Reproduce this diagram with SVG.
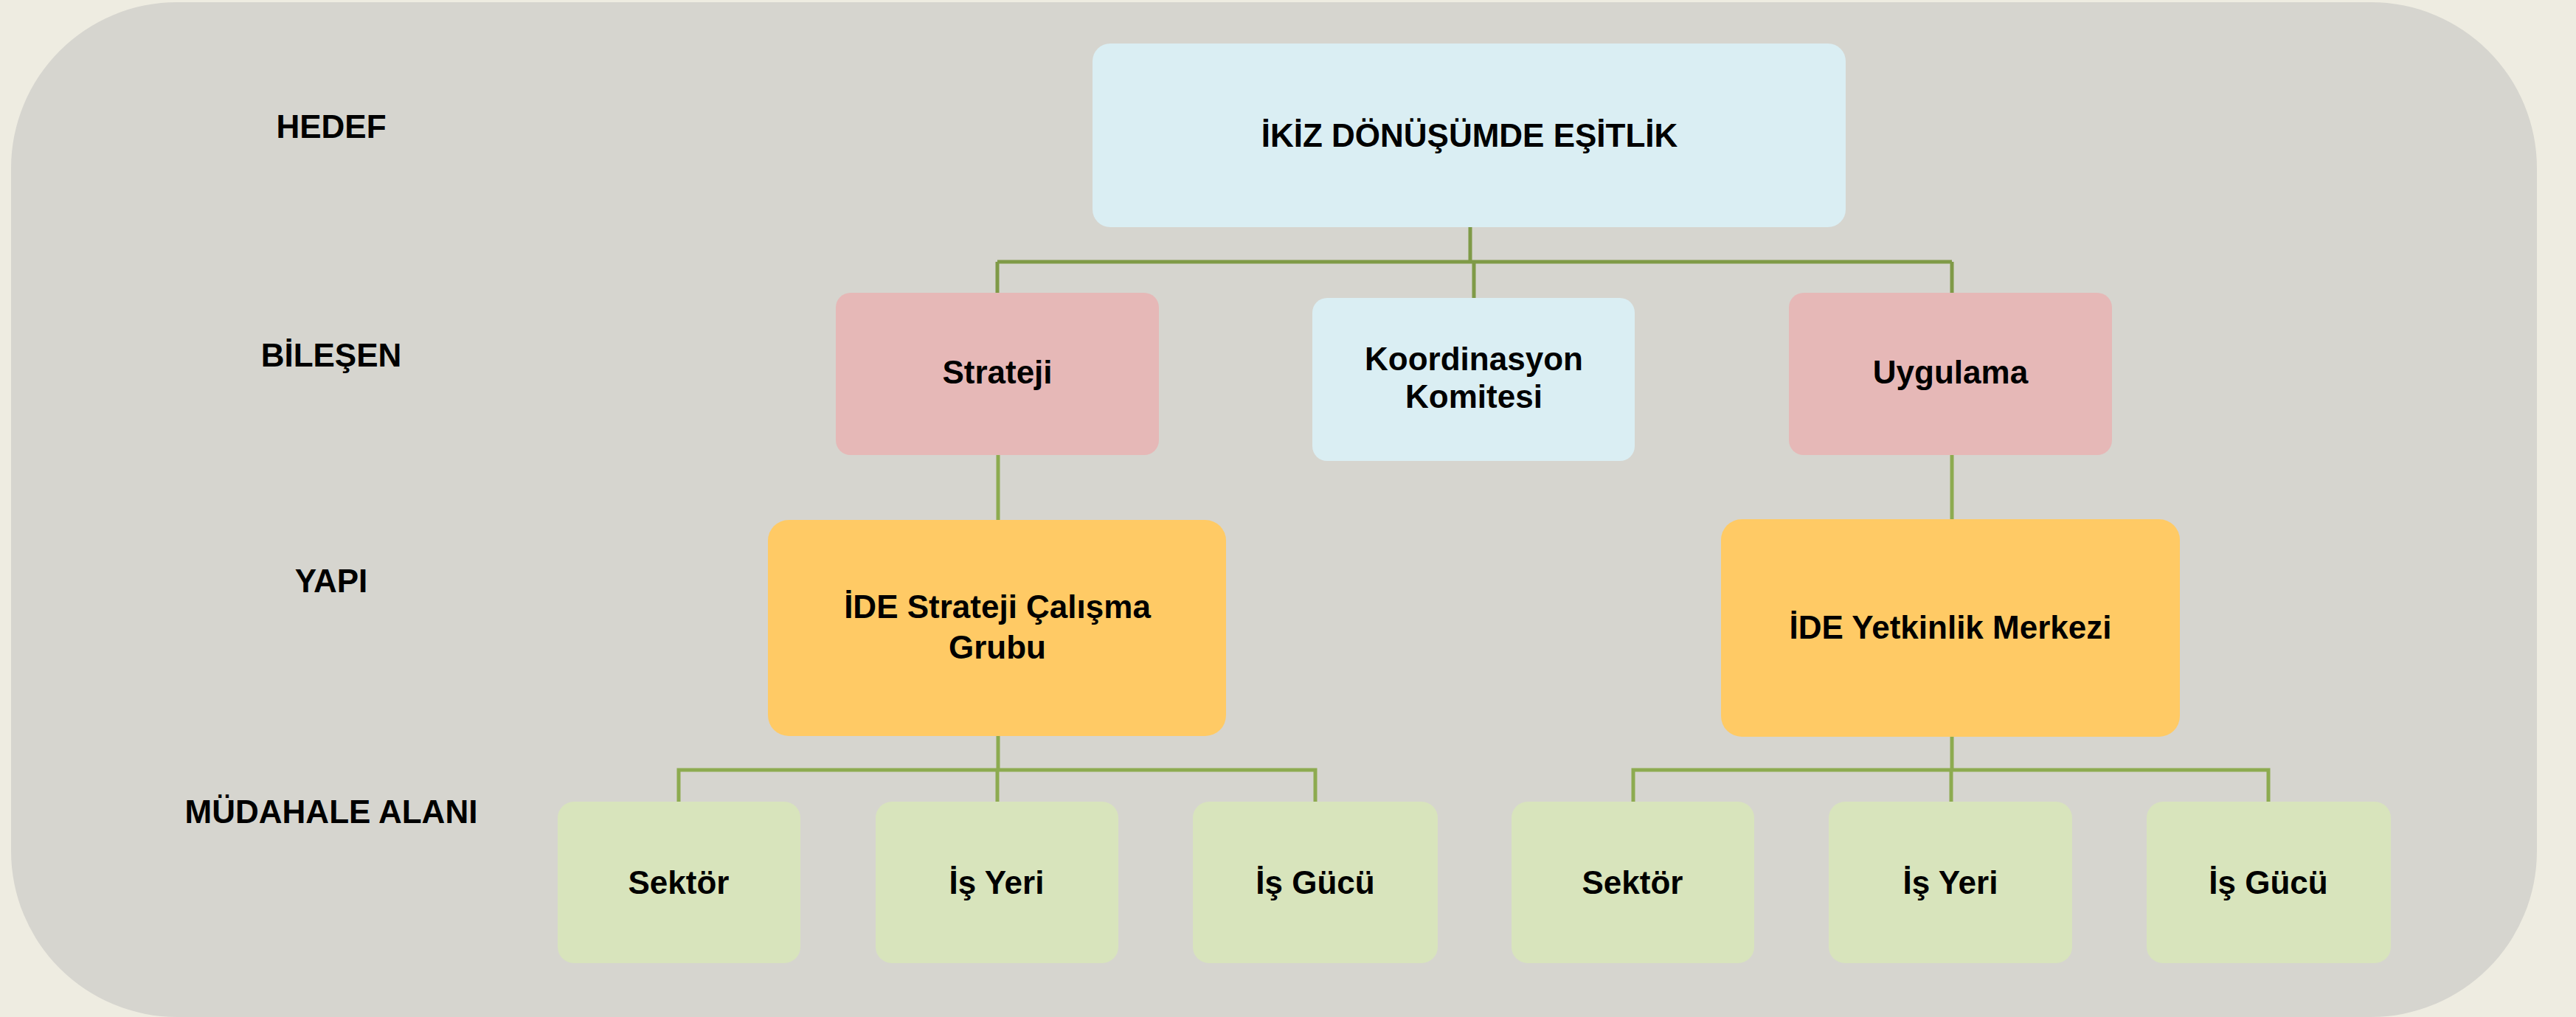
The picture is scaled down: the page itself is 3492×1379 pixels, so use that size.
<svg xmlns="http://www.w3.org/2000/svg" width="3492" height="1379" viewBox="0 0 3492 1379">
<style>
text{font-family:"Liberation Sans",Arial,sans-serif;font-weight:bold;font-size:44px;fill:#000;text-anchor:middle}
.c1{fill:none;stroke:#7F9A47;stroke-width:5}
.c2{fill:none;stroke:#8DAB50;stroke-width:5}
.blue{fill:#DAEEF3}
.pink{fill:#E6B8B7}
.yel{fill:#FFCA65}
.grn{fill:#D8E4BC}
</style>
<rect x="0" y="0" width="3492" height="1379" fill="#EEECE1"/>
<rect x="15" y="3" width="3424" height="1376" rx="225" ry="225" fill="#D6D5CF"/>
<g id="labels">
<text x="449" y="187">HEDEF</text>
<text x="449" y="497">BİLEŞEN</text>
<text x="449" y="803">YAPI</text>
<text x="449" y="1116">MÜDAHALE ALANI</text>
</g>
<g id="connectors">
<path class="c1" d="M1993 307V355M1352 355H2646M1352 355V398M2646 355V398M1998 355V405"/>
<path class="c2" d="M1353 616V706M2646 616V705"/>
<path class="c2" d="M1353 997V1044M920 1088V1044H1783V1088M1352 1044V1088"/>
<path class="c2" d="M2646 998V1044M2214 1088V1044H3075V1088M2645 1044V1088"/>
</g>
<g id="n-hedef"><rect class="blue" x="1481" y="59" width="1021" height="249" rx="24"/><text x="1992" y="199">İKİZ DÖNÜŞÜMDE EŞİTLİK</text></g>
<g id="n-strateji"><rect class="pink" x="1133" y="397" width="438" height="220" rx="20"/><text x="1352" y="520">Strateji</text></g>
<g id="n-koordinasyon"><rect class="blue" x="1779" y="404" width="437" height="221" rx="20"/><text x="1998" y="502">Koordinasyon</text><text x="1998" y="553">Komitesi</text></g>
<g id="n-uygulama"><rect class="pink" x="2425" y="397" width="438" height="220" rx="20"/><text x="2644" y="520">Uygulama</text></g>
<g id="n-ide-strateji"><rect class="yel" x="1041" y="705" width="621" height="293" rx="28"/><text x="1352" y="838">İDE Strateji Çalışma</text><text x="1352" y="893">Grubu</text></g>
<g id="n-ide-yetkinlik"><rect class="yel" x="2333" y="704" width="622" height="295" rx="28"/><text x="2644" y="866">İDE Yetkinlik Merkezi</text></g>
<g id="n-sektor1"><rect class="grn" x="756" y="1087" width="329" height="219" rx="22"/><text x="920" y="1212">Sektör</text></g>
<g id="n-isyeri1"><rect class="grn" x="1187" y="1087" width="329" height="219" rx="22"/><text x="1351" y="1212">İş Yeri</text></g>
<g id="n-isgucu1"><rect class="grn" x="1617" y="1087" width="332" height="219" rx="22"/><text x="1783" y="1212">İş Gücü</text></g>
<g id="n-sektor2"><rect class="grn" x="2049" y="1087" width="329" height="219" rx="22"/><text x="2213" y="1212">Sektör</text></g>
<g id="n-isyeri2"><rect class="grn" x="2479" y="1087" width="330" height="219" rx="22"/><text x="2644" y="1212">İş Yeri</text></g>
<g id="n-isgucu2"><rect class="grn" x="2910" y="1087" width="331" height="219" rx="22"/><text x="3075" y="1212">İş Gücü</text></g>
</svg>
